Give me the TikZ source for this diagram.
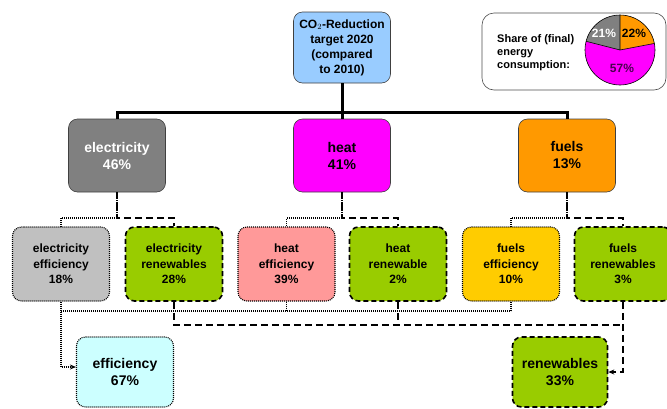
\documentclass[tikz,border=0pt]{standalone}
\usepackage{fontspec}
\setmainfont{Liberation Sans}
\usetikzlibrary{arrows.meta}
\definecolor{cblue}{HTML}{99CCFF}
\definecolor{cgray}{HTML}{808080}
\definecolor{cmag}{HTML}{FF00FF}
\definecolor{corange}{HTML}{FF9900}
\definecolor{clgray}{HTML}{C0C0C0}
\definecolor{cgreen}{HTML}{99CC00}
\definecolor{cpink}{HTML}{FF9999}
\definecolor{cyellow}{HTML}{FFCC00}
\definecolor{ccyan}{HTML}{CCFFFF}
\definecolor{cpurple}{HTML}{4A0050}
\tikzset{
  box/.style={rounded corners=9pt, align=center, font=\bfseries, inner sep=0pt},
  topbox/.style={box, draw=black!75, line width=0.6pt, minimum width=97pt, minimum height=73pt, font=\fontsize{14}{17}\selectfont\bfseries},
  subbox/.style={box, minimum width=97pt, minimum height=74pt, font=\fontsize{12}{15.5}\selectfont\bfseries},
  dotbox/.style={subbox, draw=black, line width=1.1pt, dash pattern=on 1pt off 1pt},
  dashbox/.style={subbox, draw=black, line width=1.6pt, dash pattern=on 5pt off 3pt},
  treeline/.style={line width=3pt},
  dotline/.style={line width=1.9pt, dash pattern=on 0.9pt off 1.1pt},
  dashline/.style={line width=1.8pt, dash pattern=on 7pt off 4pt},
  tip/.style={-{Stealth[length=6pt,width=5pt]}},
}
\begin{document}
\begin{tikzpicture}[x=1pt,y=-1pt]
\useasboundingbox (0,0) rectangle (667,408);
% top
\node[box, draw=black!75, line width=0.6pt, fill=cblue, minimum width=97pt, minimum height=71pt, font=\fontsize{12}{15}\selectfont\bfseries] (co2) at (342,47.5) {CO$_2$-Reduction\\target 2020\\(compared\\to 2010)};
% level 1
\node[topbox, fill=cgray, text=white] (elec) at (117,155.5) {electricity\\46\%};
\node[topbox, fill=cmag] (heat) at (342,155.5) {heat\\41\%};
\node[topbox, fill=corange] (fuels) at (567,155.5) {fuels\\13\%};
% level 2
\node[dotbox, fill=clgray] (ee) at (61,264) {electricity\\efficiency\\18\%};
\node[dashbox, fill=cgreen] (er) at (174,264) {electricity\\renewables\\28\%};
\node[dotbox, fill=cpink] (he) at (286.5,264) {heat\\efficiency\\39\%};
\node[dashbox, fill=cgreen] (hr) at (398,264) {heat\\renewable\\2\%};
\node[dotbox, fill=cyellow] (fe) at (511,264) {fuels\\efficiency\\10\%};
\node[dashbox, fill=cgreen] (fr) at (623,264) {fuels\\renewables\\3\%};
% level 3
\node[dotbox, fill=ccyan, minimum height=70pt, font=\fontsize{14}{17}\selectfont\bfseries] (eff) at (125,372) {efficiency\\67\%};
\node[dashbox, fill=cgreen, minimum width=95pt, minimum height=70pt, font=\fontsize{14}{17}\selectfont\bfseries] (ren) at (560,372) {renewables\\33\%};
% tree
\coordinate (j) at (0,112);
\draw[treeline] (co2.south) -- (co2.south |- j);
\draw[treeline] (elec.north) -- (elec.north |- j) -- (fuels.north |- j) -- (fuels.north);
\draw[treeline] (heat.north) -- (heat.north |- j);
% level 1 -> level 2
\coordinate (jy) at (0,218);
\foreach \p/\a/\b in {elec/ee/er, heat/he/hr, fuels/fe/fr}{
  \draw[dashline] (\p.south) -- (\p.south |- jy) -| (\b.north);
  \draw[dotline] (\p.south) -- (\p.south |- jy) -| (\a.north);
}
% dotted to efficiency
\coordinate (dy) at (0,311);
\draw[dotline] (ee.south |- dy) -- (fe.south |- dy);
\draw[dotline] (he.south) -- (he.south |- dy);
\draw[dotline] (fe.south) -- (fe.south |- dy);
\draw[dotline, tip] (ee.south) |- ([yshift=5pt]eff.west);
% dashed to renewables
\coordinate (dsy) at (0,325);
\draw[dashline] (er.south) |- (fr.south |- dsy);
\draw[dashline] (hr.south) -- (hr.south |- dsy);
\draw[dashline, tip] (fr.south) |- (ren.east);
% legend
\node[draw=black!70, line width=0.6pt, rounded corners=12pt, minimum width=184pt, minimum height=77pt, inner sep=0pt] (leg) at (574,51.5) {};
\node[anchor=west, align=left, inner sep=0pt, font=\fontsize{11}{13}\selectfont\bfseries] (legtext) at (497,53) {Share of (final)\\energy\\consumption:};
\begin{scope}[shift={(620,50)}, yscale=-1]
  \fill[corange] (0,0) -- (90:35) arc[start angle=90, end angle=10.8, radius=35] -- cycle;
  \fill[cmag] (0,0) -- (10.8:35) arc[start angle=10.8, end angle=-194.4, radius=35] -- cycle;
  \fill[cgray] (0,0) -- (165.6:35) arc[start angle=165.6, end angle=90, radius=35] -- cycle;
  \draw[line width=0.6pt] (0,0) circle[radius=35];
  \draw[line width=0.6pt] (90:35) -- (0,0) -- (10.8:35) (0,0) -- (165.6:35);
  \node[font=\fontsize{12}{14}\selectfont\bfseries, text=white, inner sep=0pt] (p21) at (-16,17) {21\%};
  \node[font=\fontsize{12}{14}\selectfont\bfseries, inner sep=0pt] (p22) at (14,17) {22\%};
  \node[font=\fontsize{12}{14}\selectfont\bfseries, text=cpurple, inner sep=0pt] (p57) at (2,-18) {57\%};
\end{scope}
\end{tikzpicture}
\end{document}
